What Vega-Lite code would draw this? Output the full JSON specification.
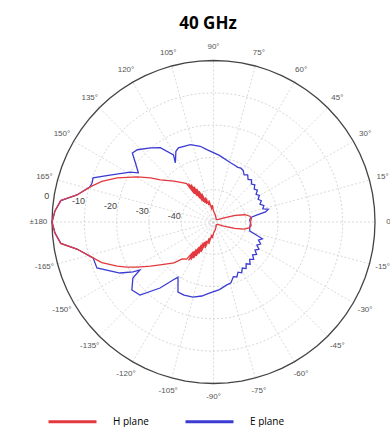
{
  "$schema": "https://vega.github.io/schema/vega-lite/v6.json",
  "width": 390,
  "height": 427,
  "autosize": {"type": "none"},
  "padding": 0,
  "background": "white",
  "config": {"view": {"stroke": null}},
  "title": {"text": "40 GHz", "font": "Open Sans", "fontSize": 17, "fontWeight": "bold", "color": "black", "anchor": "middle", "frame": "group", "baseline": "alphabetic", "offset": -28, "dx": 13, "dy": 18},
  "datasets": {
    "circle": [{"a": [0,5,10,15,20,25,30,35,40,45,50,55,60,65,70,75,80,85,90,95,100,105,110,115,120,125,130,135,140,145,150,155,160,165,170,175,180,185,190,195,200,205,210,215,220,225,230,235,240,245,250,255,260,265,270,275,280,285,290,295,300,305,310,315,320,325,330,335,340,345,350,355,360], "r40": -40, "r30": -30, "r20": -20, "r10": -10, "r0": 0}],
    "spokes": [{"a": 0}, {"a": 15}, {"a": 30}, {"a": 45}, {"a": 60}, {"a": 75}, {"a": 90}, {"a": 105}, {"a": 120}, {"a": 135}, {"a": 150}, {"a": 165}],
    "angles": [
      {"a": 0, "t": "0"}, {"a": 15, "t": "15°"}, {"a": 30, "t": "30°"}, {"a": 45, "t": "45°"}, {"a": 60, "t": "60°"}, {"a": 75, "t": "75°"}, {"a": 90, "t": "90°"}, {"a": 105, "t": "105°"}, {"a": 120, "t": "120°"}, {"a": 135, "t": "135°"}, {"a": 150, "t": "150°"}, {"a": 165, "t": "165°"}, {"a": 180, "t": "±180"},
      {"a": -165, "t": "-165°"}, {"a": -150, "t": "-150°"}, {"a": -135, "t": "-135°"}, {"a": -120, "t": "-120°"}, {"a": -105, "t": "-105°"}, {"a": -90, "t": "-90°"}, {"a": -75, "t": "-75°"}, {"a": -60, "t": "-60°"}, {"a": -45, "t": "-45°"}, {"a": -30, "t": "-30°"}, {"a": -15, "t": "-15°"}
    ],
    "dblabels": [{"db": 0, "t": "0"}, {"db": -10, "t": "-10"}, {"db": -20, "t": "-20"}, {"db": -30, "t": "-30"}, {"db": -40, "t": "-40"}],
    "pattern": [
      {"s": "E plane", "a": 180, "db": 0}, {"s": "E plane", "a": 176, "db": -0.8}, {"s": "E plane", "a": 172, "db": -2.3}, {"s": "E plane", "a": 168.8, "db": -6.9}, {"s": "E plane", "a": 164.1, "db": -10.3}, {"s": "E plane", "a": 162.2, "db": -10.5}, {"s": "E plane", "a": 159.9, "db": -10.3}, {"s": "E plane", "a": 155.6, "db": -14.8}, {"s": "E plane", "a": 149.1, "db": -19.9}, {"s": "E plane", "a": 146.8, "db": -22.2}, {"s": "E plane", "a": 142.9, "db": -19.7}, {"s": "E plane", "a": 139.6, "db": -17.0}, {"s": "E plane", "a": 136.5, "db": -17.5}, {"s": "E plane", "a": 130.4, "db": -19.9}, {"s": "E plane", "a": 125.6, "db": -21.7}, {"s": "E plane", "a": 120.8, "db": -25.8}, {"s": "E plane", "a": 122.8, "db": -28.2}, {"s": "E plane", "a": 118, "db": -25.2}, {"s": "E plane", "a": 115.3, "db": -24.6}, {"s": "E plane", "a": 106.6, "db": -25.0}, {"s": "E plane", "a": 100, "db": -26.2}, {"s": "E plane", "a": 94.8, "db": -27.6}, {"s": "E plane", "a": 85, "db": -29.3}, {"s": "E plane", "a": 74, "db": -30.9}, {"s": "E plane", "a": 70, "db": -31.2}, {"s": "E plane", "a": 66, "db": -31.5}, {"s": "E plane", "a": 63, "db": -31.3}, {"s": "E plane", "a": 60, "db": -31.6}, {"s": "E plane", "a": 57, "db": -32.6}, {"s": "E plane", "a": 54, "db": -32.0}, {"s": "E plane", "a": 51, "db": -33.0}, {"s": "E plane", "a": 48, "db": -32.4}, {"s": "E plane", "a": 45, "db": -33.4}, {"s": "E plane", "a": 42, "db": -32.8}, {"s": "E plane", "a": 39, "db": -33.8}, {"s": "E plane", "a": 36, "db": -33.2}, {"s": "E plane", "a": 33, "db": -34.3}, {"s": "E plane", "a": 30, "db": -33.6}, {"s": "E plane", "a": 27, "db": -34.5}, {"s": "E plane", "a": 24, "db": -33.8}, {"s": "E plane", "a": 21, "db": -34.6}, {"s": "E plane", "a": 18, "db": -33.6}, {"s": "E plane", "a": 15, "db": -34.2}, {"s": "E plane", "a": 13, "db": -32.6}, {"s": "E plane", "a": 11, "db": -33.6}, {"s": "E plane", "a": 9, "db": -36.5}, {"s": "E plane", "a": 7, "db": -38.4}, {"s": "E plane", "a": 3, "db": -38.8}, {"s": "E plane", "a": 0, "db": -38.5}, {"s": "E plane", "a": -4, "db": -38.6}, {"s": "E plane", "a": -9, "db": -38.7}, {"s": "E plane", "a": -14, "db": -38.4}, {"s": "E plane", "a": -17, "db": -36.0}, {"s": "E plane", "a": -19, "db": -34.0}, {"s": "E plane", "a": -22, "db": -35.0}, {"s": "E plane", "a": -25, "db": -33.9}, {"s": "E plane", "a": -28, "db": -34.8}, {"s": "E plane", "a": -31, "db": -33.6}, {"s": "E plane", "a": -34, "db": -34.5}, {"s": "E plane", "a": -37, "db": -33.3}, {"s": "E plane", "a": -40, "db": -34.2}, {"s": "E plane", "a": -43, "db": -33.0}, {"s": "E plane", "a": -46, "db": -33.9}, {"s": "E plane", "a": -49, "db": -32.7}, {"s": "E plane", "a": -52, "db": -33.6}, {"s": "E plane", "a": -55, "db": -32.4}, {"s": "E plane", "a": -58, "db": -33.2}, {"s": "E plane", "a": -61, "db": -32.0}, {"s": "E plane", "a": -64, "db": -32.7}, {"s": "E plane", "a": -67, "db": -31.5}, {"s": "E plane", "a": -70, "db": -32.0}, {"s": "E plane", "a": -74, "db": -30.4}, {"s": "E plane", "a": -78, "db": -30.1}, {"s": "E plane", "a": -85, "db": -29.0}, {"s": "E plane", "a": -92.8, "db": -28.0}, {"s": "E plane", "a": -99, "db": -26.8}, {"s": "E plane", "a": -105.3, "db": -25.9}, {"s": "E plane", "a": -112, "db": -25.6}, {"s": "E plane", "a": -116.9, "db": -25.7}, {"s": "E plane", "a": -122.8, "db": -29.7}, {"s": "E plane", "a": -124.9, "db": -28.1}, {"s": "E plane", "a": -129, "db": -23.7}, {"s": "E plane", "a": -135.2, "db": -17.9}, {"s": "E plane", "a": -140.2, "db": -17.1}, {"s": "E plane", "a": -145.2, "db": -19.6}, {"s": "E plane", "a": -146.9, "db": -22.8}, {"s": "E plane", "a": -148.2, "db": -20.7}, {"s": "E plane", "a": -151.4, "db": -17.0}, {"s": "E plane", "a": -158.5, "db": -11.2}, {"s": "E plane", "a": -163.4, "db": -11.1}, {"s": "E plane", "a": -168.8, "db": -6.9}, {"s": "E plane", "a": -172, "db": -2.3}, {"s": "E plane", "a": -176, "db": -0.8}, {"s": "E plane", "a": -180, "db": 0},
      {"s": "H plane", "a": 180, "db": 0}, {"s": "H plane", "a": 176, "db": -0.8}, {"s": "H plane", "a": 172, "db": -2.2}, {"s": "H plane", "a": 168.8, "db": -6.9}, {"s": "H plane", "a": 164.1, "db": -10.3}, {"s": "H plane", "a": 160, "db": -13.2}, {"s": "H plane", "a": 155.4, "db": -17.2}, {"s": "H plane", "a": 149.4, "db": -22.6}, {"s": "H plane", "a": 145, "db": -26.2}, {"s": "H plane", "a": 141.6, "db": -29.0}, {"s": "H plane", "a": 134, "db": -32.4}, {"s": "H plane", "a": 127.6, "db": -34.7}, {"s": "H plane", "a": 125, "db": -35.5}, {"s": "H plane", "a": 124, "db": -39.5}, {"s": "H plane", "a": 123, "db": -35.8}, {"s": "H plane", "a": 122, "db": -40.5}, {"s": "H plane", "a": 121, "db": -36.5}, {"s": "H plane", "a": 120, "db": -41.5}, {"s": "H plane", "a": 119, "db": -37.5}, {"s": "H plane", "a": 118, "db": -42.5}, {"s": "H plane", "a": 117, "db": -38.5}, {"s": "H plane", "a": 116, "db": -43.0}, {"s": "H plane", "a": 115, "db": -39.5}, {"s": "H plane", "a": 114, "db": -43.5}, {"s": "H plane", "a": 112.5, "db": -40.5}, {"s": "H plane", "a": 110.5, "db": -44.0}, {"s": "H plane", "a": 108, "db": -42.0}, {"s": "H plane", "a": 105, "db": -44.6}, {"s": "H plane", "a": 102, "db": -43.2}, {"s": "H plane", "a": 98, "db": -45.8}, {"s": "H plane", "a": 94, "db": -44.8}, {"s": "H plane", "a": 90, "db": -46.6}, {"s": "H plane", "a": 80, "db": -47.5}, {"s": "H plane", "a": 65, "db": -48.3}, {"s": "H plane", "a": 45, "db": -48.8}, {"s": "H plane", "a": 30, "db": -48.5}, {"s": "H plane", "a": 22, "db": -46.5}, {"s": "H plane", "a": 17, "db": -43.0}, {"s": "H plane", "a": 13, "db": -40.0}, {"s": "H plane", "a": 9, "db": -38.6}, {"s": "H plane", "a": 5, "db": -38.2}, {"s": "H plane", "a": 0, "db": -38.6}, {"s": "H plane", "a": -5, "db": -38.3}, {"s": "H plane", "a": -9, "db": -38.7}, {"s": "H plane", "a": -13, "db": -40.2}, {"s": "H plane", "a": -17, "db": -43.2}, {"s": "H plane", "a": -22, "db": -46.6}, {"s": "H plane", "a": -30, "db": -48.5}, {"s": "H plane", "a": -45, "db": -48.8}, {"s": "H plane", "a": -65, "db": -48.2}, {"s": "H plane", "a": -80, "db": -47.4}, {"s": "H plane", "a": -90, "db": -46.5}, {"s": "H plane", "a": -94, "db": -45.0}, {"s": "H plane", "a": -98, "db": -46.0}, {"s": "H plane", "a": -102, "db": -43.0}, {"s": "H plane", "a": -105, "db": -44.8}, {"s": "H plane", "a": -108, "db": -41.5}, {"s": "H plane", "a": -110.5, "db": -43.8}, {"s": "H plane", "a": -112.5, "db": -40.0}, {"s": "H plane", "a": -114, "db": -43.2}, {"s": "H plane", "a": -115, "db": -39.2}, {"s": "H plane", "a": -116, "db": -42.8}, {"s": "H plane", "a": -117, "db": -38.2}, {"s": "H plane", "a": -118, "db": -42.0}, {"s": "H plane", "a": -119, "db": -37.2}, {"s": "H plane", "a": -120, "db": -41.0}, {"s": "H plane", "a": -121, "db": -36.4}, {"s": "H plane", "a": -122, "db": -40.0}, {"s": "H plane", "a": -123, "db": -35.8}, {"s": "H plane", "a": -124, "db": -39.0}, {"s": "H plane", "a": -126, "db": -35.8}, {"s": "H plane", "a": -130.3, "db": -35.0}, {"s": "H plane", "a": -134, "db": -32.4}, {"s": "H plane", "a": -141.2, "db": -28.8}, {"s": "H plane", "a": -145, "db": -26.2}, {"s": "H plane", "a": -149.4, "db": -22.6}, {"s": "H plane", "a": -152.5, "db": -19.8}, {"s": "H plane", "a": -155.4, "db": -17.2}, {"s": "H plane", "a": -160, "db": -13.2}, {"s": "H plane", "a": -163.4, "db": -11.1}, {"s": "H plane", "a": -168.8, "db": -6.9}, {"s": "H plane", "a": -172, "db": -2.2}, {"s": "H plane", "a": -176, "db": -0.8}, {"s": "H plane", "a": -180, "db": 0}
    ]
  },
  "layer": [
    {
      "data": {"name": "circle"},
      "transform": [
        {"flatten": ["a"]},
        {"fold": ["r40", "r30", "r20", "r10"], "as": ["ring", "db"]},
        {"calculate": "(datum.db + 50)*cos(datum.a*PI/180)", "as": "x"},
        {"calculate": "(datum.db + 50)*sin(datum.a*PI/180)", "as": "y"}
      ],
      "mark": {"type": "line", "stroke": "#cccccc", "strokeWidth": 0.8, "strokeDash": [2, 2]},
      "encoding": {
        "x": {"field": "x", "type": "quantitative", "scale": {"domain": [-66.1, 54.64], "nice": false, "zero": false}, "axis": null},
        "y": {"field": "y", "type": "quantitative", "scale": {"domain": [-63.47, 68.73], "nice": false, "zero": false}, "axis": null},
        "detail": {"field": "ring", "type": "nominal"},
        "order": {"field": "a", "type": "quantitative"}
      }
    },
    {
      "data": {"name": "spokes"},
      "transform": [
        {"calculate": "-50*cos(datum.a*PI/180)", "as": "sx"},
        {"calculate": "-50*sin(datum.a*PI/180)", "as": "sy"},
        {"calculate": "50*cos(datum.a*PI/180)", "as": "ex"},
        {"calculate": "50*sin(datum.a*PI/180)", "as": "ey"}
      ],
      "mark": {"type": "rule", "stroke": "#d0d0d0", "strokeWidth": 0.8, "strokeDash": [2, 2]},
      "encoding": {
        "x": {"field": "sx", "type": "quantitative", "axis": null},
        "y": {"field": "sy", "type": "quantitative", "axis": null},
        "x2": {"field": "ex"},
        "y2": {"field": "ey"}
      }
    },
    {
      "data": {"name": "circle"},
      "transform": [
        {"flatten": ["a"]},
        {"calculate": "(datum.r0 + 50)*cos(datum.a*PI/180)", "as": "x"},
        {"calculate": "(datum.r0 + 50)*sin(datum.a*PI/180)", "as": "y"}
      ],
      "mark": {"type": "line", "stroke": "#444444", "strokeWidth": 1.3},
      "encoding": {
        "x": {"field": "x", "type": "quantitative", "axis": null},
        "y": {"field": "y", "type": "quantitative", "axis": null},
        "order": {"field": "a", "type": "quantitative"}
      }
    },
    {
      "data": {"name": "pattern"},
      "transform": [
        {"window": [{"op": "row_number", "as": "i"}]},
        {"calculate": "max(datum.db + 50, 0)", "as": "r"},
        {"calculate": "datum.r*cos(datum.a*PI/180)", "as": "x"},
        {"calculate": "datum.r*sin(datum.a*PI/180)", "as": "y"}
      ],
      "mark": {"type": "line", "strokeWidth": 1.3},
      "encoding": {
        "x": {"field": "x", "type": "quantitative", "axis": null},
        "y": {"field": "y", "type": "quantitative", "axis": null},
        "order": {"field": "i", "type": "quantitative"},
        "color": {
          "field": "s", "type": "nominal",
          "scale": {"domain": ["H plane", "E plane"], "range": ["#e2383e", "#3b3bd4"]},
          "legend": {"orient": "none", "legendX": 47, "legendY": 396, "direction": "horizontal", "title": null, "symbolType": "stroke", "symbolSize": 2304, "symbolStrokeWidth": 3, "labelFont": "Open Sans", "labelFontSize": 10, "labelColor": "black", "labelOffset": 15, "columnPadding": 30, "padding": 0}
        }
      }
    },
    {
      "data": {"name": "angles"},
      "transform": [
        {"calculate": "54.2*cos(datum.a*PI/180)", "as": "lx"},
        {"calculate": "54.2*sin(datum.a*PI/180)", "as": "ly"}
      ],
      "mark": {"type": "text", "font": "Liberation Sans", "fontSize": 8, "color": "#555555", "align": "center", "baseline": "middle"},
      "encoding": {
        "x": {"field": "lx", "type": "quantitative", "axis": null},
        "y": {"field": "ly", "type": "quantitative", "axis": null},
        "text": {"field": "t", "type": "nominal"}
      }
    },
    {
      "data": {"name": "dblabels"},
      "transform": [
        {"calculate": "datum.db + 52.3", "as": "rr"},
        {"calculate": "datum.rr*cos(171*PI/180)", "as": "lx"},
        {"calculate": "datum.rr*sin(171*PI/180)", "as": "ly"}
      ],
      "mark": {"type": "text", "font": "Liberation Sans", "fontSize": 9, "color": "#444444", "align": "center", "baseline": "middle"},
      "encoding": {
        "x": {"field": "lx", "type": "quantitative", "axis": null},
        "y": {"field": "ly", "type": "quantitative", "axis": null},
        "text": {"field": "t", "type": "nominal"}
      }
    }
  ]
}
